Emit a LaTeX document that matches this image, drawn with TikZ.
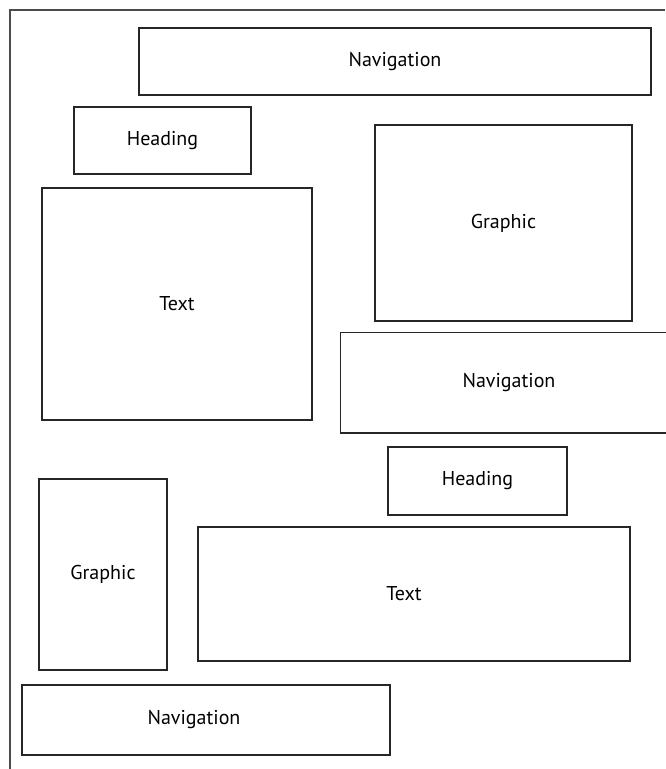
\documentclass[tikz,border=0pt]{standalone}
\usepackage{fontspec}
\setmainfont{PT Sans}
\begin{document}
\begin{tikzpicture}[x=1pt,y=-1pt,
  box/.style={draw=black!85,line width=1.5pt,rectangle,inner sep=0pt,font=\fontsize{20}{22}\selectfont},
  side/.style={draw=black!85,line width=1.5pt},
  frame/.style={draw=black!70,line width=1.8pt}]
\useasboundingbox (0,0) rectangle (665,769);
\draw[frame] (665,10) -- (10,10) -- (10,769);
\newcommand{\bx}[6]{\node[box,minimum width=#4-#2,minimum height=#5-#3] (#1) at ({(#2+#4)/2},{(#3+#5)/2}) {\raisebox{-2pt}{#6}};}
\bx{nava}{139}{28}{651}{95}{Navigation}
\bx{heada}{74}{107}{251}{174}{Heading}
\bx{texta}{42}{188}{312}{420}{Text}
\bx{graphica}{375}{125}{632}{321}{Graphic}
\node[box,draw=none,minimum width=328,minimum height=99] (navb) at (505,382.5) {\raisebox{-2pt}{\hspace*{8pt}Navigation}};
\draw[side] (navb.north east) -- (navb.north west) -- (navb.south west) -- (navb.south east);
\bx{headb}{388}{447}{567}{515}{Heading}
\bx{graphicb}{39}{479}{167}{670}{Graphic}
\node[box,minimum width=432,minimum height=134] (textb) at (414,594) {\raisebox{-2pt}{\hspace*{-20pt}Text}};
\node[box,minimum width=368,minimum height=70] (navc) at (206,720) {\raisebox{-2pt}{\hspace*{-24pt}Navigation}};
\end{tikzpicture}
\end{document}
